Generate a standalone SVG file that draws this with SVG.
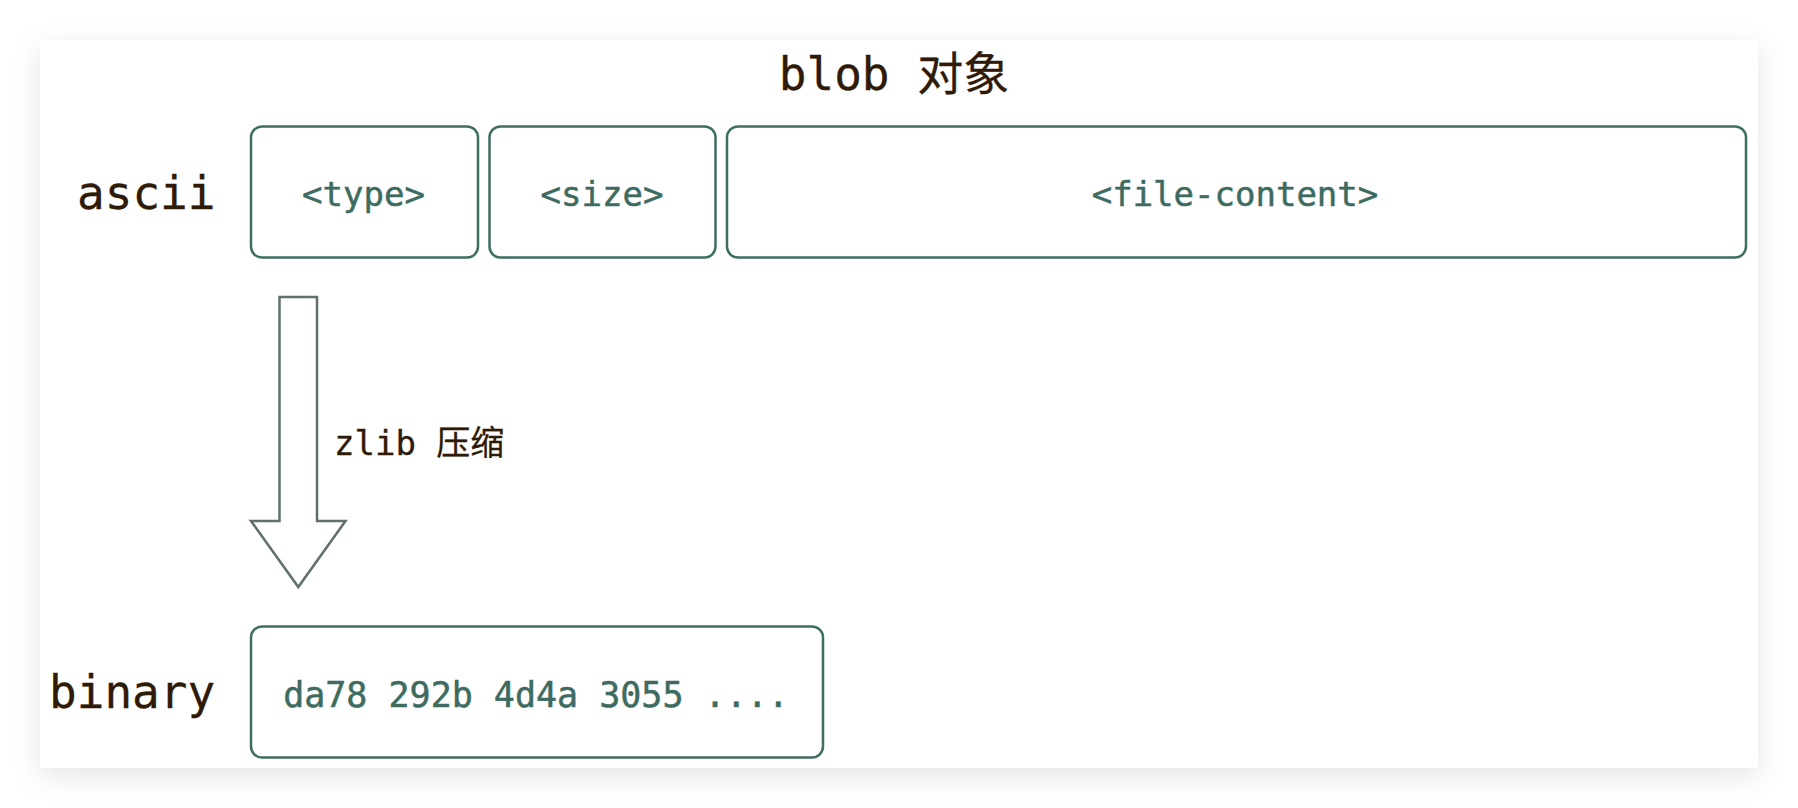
<svg xmlns="http://www.w3.org/2000/svg" width="1798" height="808" viewBox="0 0 1798 808">
  <defs>
    <filter id="shadow" x="-5%" y="-10%" width="110%" height="125%">
      <feDropShadow dx="0" dy="8" stdDeviation="14" flood-color="#000" flood-opacity="0.10"/>
    </filter>
  </defs>
  <style>
    .lbl { font-family: "DejaVu Sans Mono", "Noto Sans CJK SC", monospace; fill: #2e1a06; stroke: #2e1a06; stroke-width: 0.3; }
    .box { fill: #ffffff; stroke: #3e6e61; stroke-width: 2.5; }
    .btxt { font-family: "DejaVu Sans Mono", monospace; fill: #3d6b5f; stroke: #3d6b5f; stroke-width: 0.5; font-size: 34px; text-anchor: middle; }
    .arrow { fill: #ffffff; stroke: #5f6f6b; stroke-width: 2.5; stroke-linejoin: miter; }
  </style>
  <rect x="0" y="0" width="1798" height="808" fill="#ffffff"/>
  <rect id="panel" x="40" y="40" width="1718" height="728" fill="#ffffff" filter="url(#shadow)"/>

  <g id="title">
    <text class="lbl" x="894" y="90" font-size="46" text-anchor="middle">blob 对象</text>
  </g>

  <g id="ascii-label">
    <text class="lbl" x="77" y="209" font-size="46">ascii</text>
  </g>

  <g id="node-type">
    <rect class="box" x="251" y="126.5" width="227" height="131" rx="11"/>
    <text class="btxt" x="363.5" y="206">&lt;type&gt;</text>
  </g>
  <g id="node-size">
    <rect class="box" x="489.5" y="126.5" width="226" height="131" rx="11"/>
    <text class="btxt" x="602" y="206">&lt;size&gt;</text>
  </g>
  <g id="node-file-content">
    <rect class="box" x="727" y="126.5" width="1019" height="131" rx="11"/>
    <text class="btxt" x="1235" y="206">&lt;file-content&gt;</text>
  </g>

  <g id="connectors">
    <polygon class="arrow" points="279.5,297 317,297 317,521 345.5,521 298.3,587 251,521 279.5,521"/>
    <text class="lbl" x="334" y="455" font-size="34">zlib 压缩</text>
  </g>

  <g id="binary-label">
    <text class="lbl" x="49" y="708" font-size="46">binary</text>
  </g>

  <g id="node-binary">
    <rect class="box" x="251" y="626.5" width="572" height="131" rx="11"/>
    <text class="btxt" x="536" y="707" style="font-size:35px">da78 292b 4d4a 3055 ....</text>
  </g>
</svg>
